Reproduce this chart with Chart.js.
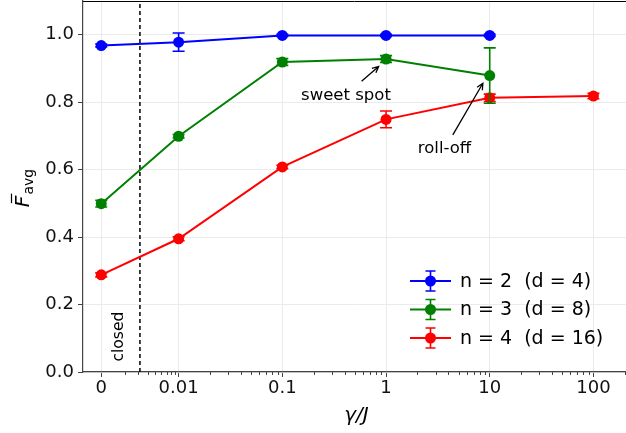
<!DOCTYPE html>
<html>
<head>
<meta charset="utf-8">
<script src="https://cdn.jsdelivr.net/npm/chart.js@4"></script>
<style>
  body { margin: 0; background: #fff; }
  canvas { display: block; }
</style>
</head>
<body>
<canvas id="fidelityChart" width="626" height="433"></canvas>
<script>
// x values (gamma/J) and their tick labels
const gammaValues = [0, 0.01, 0.1, 1, 10, 100];
const gammaLabels = ["0", "0.01", "0.1", "1", "10", "100"];
const yTickValues = [0, 0.2, 0.4, 0.6, 0.8, 1.0];

// mean fidelity and error per series
const n2Mean = [0.968, 0.978, 0.998, 0.998, 0.998, null];
const n2Err = [0.004, 0.027, 0.003, 0.003, 0.003, null];
const n3Mean = [0.499, 0.699, 0.919, 0.928, 0.879, null];
const n3Err = [0.01, 0.005, 0.01, 0.01, 0.082, null];
const n4Mean = [0.288, 0.395, 0.608, 0.749, 0.813, 0.818];
const n4Err = [0.006, 0.006, 0.005, 0.025, 0.011, 0.008];

const seriesLabels = ["n = 2  (d = 4)", "n = 3  (d = 8)", "n = 4  (d = 16)"];
const seriesColors = ["rgb(0, 0, 255)", "rgb(0, 128, 0)", "rgb(255, 0, 0)"];

const closedGamma = 0.005;

// symlog style axis: linear below 0.01, log above
const LINTHRESH = 0.01;
const LINSPAN = 0.746;
function toAxis(g) {
  if (g <= LINTHRESH) return (g / LINTHRESH) * LINSPAN;
  return LINSPAN + Math.log10(g / LINTHRESH);
}

function makePoints(means, errs) {
  const pts = [];
  for (let i = 0; i < gammaValues.length; i++) {
    if (means[i] === null) continue;
    pts.push({ x: toAxis(gammaValues[i]), y: means[i], err: errs[i] });
  }
  return pts;
}

const allMeans = [n2Mean, n3Mean, n4Mean];
const allErrs = [n2Err, n3Err, n4Err];

const datasets = seriesLabels.map((label, i) => ({
  label: label,
  data: makePoints(allMeans[i], allErrs[i]),
  borderColor: seriesColors[i],
  backgroundColor: seriesColors[i],
  pointBackgroundColor: seriesColors[i],
  pointBorderColor: seriesColors[i],
  pointBorderWidth: 0,
  pointRadius: 5.5,
  borderWidth: 2,
  tension: 0,
  errorBars: true,
}));

datasets.push({
  label: "closed",
  data: [{ x: toAxis(closedGamma), y: 0 }, { x: toAxis(closedGamma), y: 1.1 }],
  borderColor: "#000",
  borderWidth: 1.5,
  borderDash: [4, 3],
  pointRadius: 0,
  errorBars: false,
});

const FONT = "'DejaVu Sans', sans-serif";

const annotations = [
  { text: "sweet spot", tx: 2.36, ty: 0.82, ax: 2.51, ay: 0.862, hx: 2.675, hy: 0.906 },
  { text: "roll-off", tx: 3.31, ty: 0.663, ax: 3.39, ay: 0.703, hx: 3.68, hy: 0.856 },
];

function drawArrow(ctx, x0, y0, x1, y1) {
  const ang = Math.atan2(y1 - y0, x1 - x0);
  const len = 7;
  ctx.beginPath();
  ctx.moveTo(x0, y0);
  ctx.lineTo(x1, y1);
  ctx.moveTo(x1 - len * Math.cos(ang - 0.45), y1 - len * Math.sin(ang - 0.45));
  ctx.lineTo(x1, y1);
  ctx.lineTo(x1 - len * Math.cos(ang + 0.45), y1 - len * Math.sin(ang + 0.45));
  ctx.stroke();
}

function drawErrorBar(ctx, x, yTop, yBot, halfCap) {
  ctx.beginPath();
  ctx.moveTo(x, yTop);
  ctx.lineTo(x, yBot);
  ctx.moveTo(x - halfCap, yTop);
  ctx.lineTo(x + halfCap, yTop);
  ctx.moveTo(x - halfCap, yBot);
  ctx.lineTo(x + halfCap, yBot);
  ctx.stroke();
}

const extrasPlugin = {
  id: "extras",
  afterDatasetDraw(chart, args) {
    const ds = chart.data.datasets[args.index];
    if (!ds.errorBars) return;
    const ctx = chart.ctx;
    const yScale = chart.scales.y;
    const meta = args.meta;
    ctx.save();
    ctx.strokeStyle = ds.borderColor;
    ctx.lineWidth = 1.6;
    meta.data.forEach((el, i) => {
      const p = ds.data[i];
      drawErrorBar(ctx, el.x, yScale.getPixelForValue(p.y + p.err), yScale.getPixelForValue(p.y - p.err), 6);
    });
    ctx.restore();
  },
  afterDraw(chart) {
    const ctx = chart.ctx;
    const area = chart.chartArea;
    const xs = chart.scales.x;
    const ys = chart.scales.y;
    ctx.save();

    // top spine
    ctx.strokeStyle = "#000";
    ctx.lineWidth = 1;
    ctx.beginPath();
    ctx.moveTo(area.left, area.top + 0.5);
    ctx.lineTo(area.right, area.top + 0.5);
    ctx.stroke();

    // minor ticks on x
    ctx.strokeStyle = "#444";
    ctx.lineWidth = 1;
    const minor = [];
    for (let k = 2; k <= 9; k++) minor.push(LINSPAN * Math.log10(k));
    for (let d = 0; d < 5; d++) {
      for (let k = 2; k <= 9; k++) minor.push(LINSPAN + d + Math.log10(k));
    }
    ctx.beginPath();
    minor.forEach((v) => {
      const px = Math.round(xs.getPixelForValue(v)) + 0.5;
      if (px < area.left || px > area.right) return;
      ctx.moveTo(px, area.bottom);
      ctx.lineTo(px, area.bottom + 3);
    });
    ctx.stroke();

    // annotations
    ctx.fillStyle = "#000";
    ctx.strokeStyle = "#000";
    ctx.lineWidth = 1.3;
    ctx.font = "16.5px " + FONT;
    ctx.textAlign = "center";
    ctx.textBaseline = "middle";
    annotations.forEach((a) => {
      ctx.fillText(a.text, xs.getPixelForValue(a.tx), ys.getPixelForValue(a.ty));
      drawArrow(ctx, xs.getPixelForValue(a.ax), ys.getPixelForValue(a.ay),
        xs.getPixelForValue(a.hx), ys.getPixelForValue(a.hy));
    });

    // "closed" label beside the dashed line
    ctx.save();
    ctx.translate(xs.getPixelForValue(toAxis(closedGamma)) - 21, ys.getPixelForValue(0.105));
    ctx.rotate(-Math.PI / 2);
    ctx.font = "15.5px " + FONT;
    ctx.fillText("closed", 0, 0);
    ctx.restore();

    // legend
    const legendX = 410;
    const legendY = [281, 309.5, 338];
    ctx.textAlign = "left";
    ctx.font = "19px " + FONT;
    seriesLabels.forEach((label, i) => {
      const y = legendY[i];
      const c = seriesColors[i];
      ctx.strokeStyle = c;
      ctx.fillStyle = c;
      ctx.lineWidth = 2;
      ctx.beginPath();
      ctx.moveTo(legendX, y);
      ctx.lineTo(legendX + 41, y);
      ctx.stroke();
      ctx.lineWidth = 1.6;
      drawErrorBar(ctx, legendX + 20.5, y - 10, y + 10, 5);
      ctx.beginPath();
      ctx.arc(legendX + 20.5, y, 5.5, 0, Math.PI * 2);
      ctx.fill();
      ctx.fillStyle = "#000";
      ctx.fillText(label, legendX + 50, y + 1);
    });

    // x title
    ctx.font = "italic 20px " + FONT;
    ctx.textAlign = "center";
    ctx.textBaseline = "alphabetic";
    ctx.fillText("γ/J", (area.left + area.right) / 2 + 2, 421);

    // y title: F-bar with subscript avg
    ctx.save();
    ctx.translate(29, (area.top + area.bottom) / 2 + 2);
    ctx.rotate(-Math.PI / 2);
    ctx.font = "italic 20px " + FONT;
    const wF = ctx.measureText("F").width;
    ctx.font = "14px " + FONT;
    const wSub = ctx.measureText("avg").width;
    const start = -(wF + wSub) / 2;
    ctx.textAlign = "left";
    ctx.font = "italic 20px " + FONT;
    ctx.fillText("F", start, 0);
    ctx.lineWidth = 1.2;
    ctx.strokeStyle = "#000";
    ctx.beginPath();
    ctx.moveTo(start + 4, -17.5);
    ctx.lineTo(start + wF + 2, -17.5);
    ctx.stroke();
    ctx.font = "14px " + FONT;
    ctx.fillText("avg", start + wF + 1, 4);
    ctx.restore();

    ctx.restore();
  },
};

const ctx = document.getElementById("fidelityChart").getContext("2d");

const fidelityChart = new Chart(ctx, {
  type: "line",
  data: { datasets: datasets },
  options: {
    responsive: false,
    animation: false,
    layout: { autoPadding: false, padding: { top: 1, right: 0, left: 0, bottom: 0 } },
    plugins: {
      legend: { display: false },
      tooltip: { enabled: false },
    },
    scales: {
      x: {
        type: "linear",
        min: -0.176,
        max: 5.06,
        afterBuildTicks: (scale) => {
          scale.ticks = gammaValues.map((g) => ({ value: toAxis(g) }));
        },
        afterFit: (scale) => {
          scale.height = 61;
          scale.paddingLeft = 0;
          scale.paddingRight = 0;
        },
        grid: {
          color: "#ebebeb",
          lineWidth: 1,
          tickColor: "#444",
          tickLength: 5,
          drawTicks: true,
        },
        border: { display: true, color: "#444", width: 1.2 },
        ticks: {
          autoSkip: false,
          maxRotation: 0,
          padding: 1,
          color: "#111",
          font: { family: FONT, size: 18 },
          callback: (value, index) => gammaLabels[index],
        },
      },
      y: {
        type: "linear",
        min: 0,
        max: 1.1,
        afterBuildTicks: (scale) => {
          scale.ticks = yTickValues.map((v) => ({ value: v }));
        },
        afterFit: (scale) => {
          scale.width = 83;
          scale.paddingTop = 0;
          scale.paddingBottom = 0;
        },
        grid: {
          color: "#ebebeb",
          lineWidth: 1,
          tickColor: "#444",
          tickLength: 5,
          drawTicks: true,
        },
        border: { display: true, color: "#444", width: 1.2 },
        ticks: {
          padding: 4,
          color: "#111",
          font: { family: FONT, size: 18 },
          callback: (value) => value.toFixed(1),
        },
      },
    },
  },
  plugins: [extrasPlugin],
});
</script>
</body>
</html>
